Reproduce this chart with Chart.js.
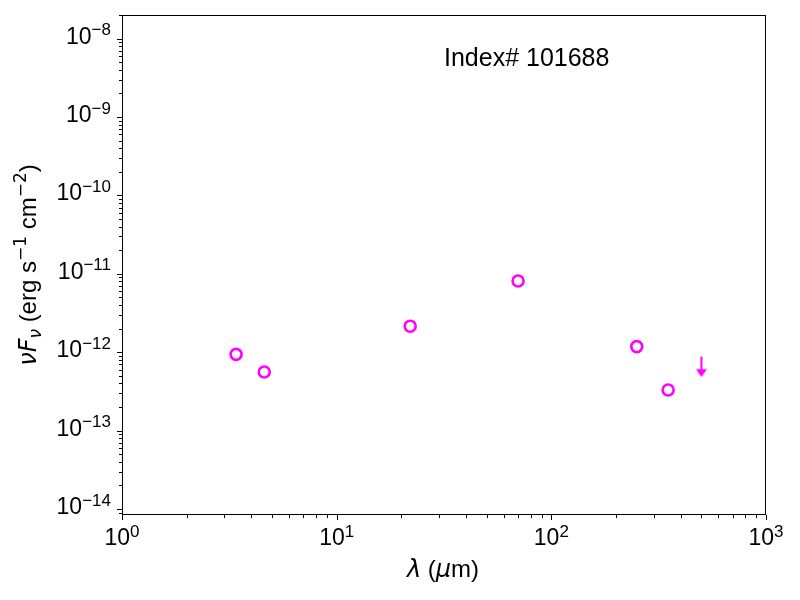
<!DOCTYPE html>
<html>
<head>
<meta charset="utf-8">
<script src="https://cdn.jsdelivr.net/npm/chart.js@4.4.1/dist/chart.umd.min.js"></script>
<style>
    body { margin: 0; background: #fff; }
    #wrap { width: 800px; height: 600px; }
</style>
</head>
<body>
<div id="wrap"><canvas id="sed" width="800" height="600"></canvas></div>
<script>
// photometry (wavelength in micron, nuFnu in erg/s/cm2)
const wavelengths = [3.4, 4.6, 22, 70, 250, 350];
const fluxes = [9.4e-13, 5.6e-13, 2.15e-12, 8.1e-12, 1.18e-12, 3.3e-13];
// upper limits
const limitWavelengths = [500];
const limitFluxes = [8.8e-13];

const xTicks = [1, 10, 100, 1000];
const yTicks = [1e-14, 1e-13, 1e-12, 1e-11, 1e-10, 1e-9, 1e-8];
const xRange = [1, 1000];
const yRange = [8.4e-15, 2.0e-8];
const label = 'Index# 101688';
const magenta = '#ff00ff';

const tickFont = '23px "Liberation Sans", Arial, sans-serif';
const supFont = '17px "Liberation Sans", Arial, sans-serif';
const titleFont = '24px "Liberation Sans", Arial, sans-serif';
// math parts of the axis titles
const mathIt = 'italic 24px "DejaVu Sans", sans-serif';
const mathItSub = 'italic 17px "DejaVu Sans", sans-serif';
const mathSup = '17px "DejaVu Sans", sans-serif';

// little down arrow for the upper limit, top of the arrow sits on the value
function arrowImage() {
    let c = document.createElement('canvas');
    c.width = 14;
    c.height = 44;
    let g = c.getContext('2d');
    g.strokeStyle = magenta;
    g.fillStyle = magenta;
    g.lineWidth = 2;
    g.beginPath();
    g.moveTo(7, 22);
    g.lineTo(7, 35);
    g.stroke();
    g.beginPath();
    g.moveTo(1.5, 34.5);
    g.lineTo(12.5, 34.5);
    g.lineTo(7, 42.5);
    g.closePath();
    g.fill();
    return c;
}

function expText(v) {
    let e = Math.round(Math.log10(v));
    return e < 0 ? '\u2212' + (-e) : String(e);
}

// "10" with a raised exponent
function powerLabel(ctx, v, x, y, align) {
    let sup = expText(v);
    ctx.font = tickFont;
    let wb = ctx.measureText('10').width;
    ctx.font = supFont;
    let ws = ctx.measureText(sup).width;
    let start = align === 'right' ? x - wb - ws : x - (wb + ws) / 2;
    ctx.textAlign = 'left';
    ctx.textBaseline = 'alphabetic';
    ctx.font = tickFont;
    ctx.fillText('10', start, y);
    ctx.font = supFont;
    ctx.fillText(sup, start + wb, y - 8.5);
}

// draws a run of text pieces with their own font and vertical shift
function drawRuns(ctx, runs, cx, y) {
    let total = 0;
    runs.forEach(r => { ctx.font = r.font; total += ctx.measureText(r.t).width; });
    let x = cx - total / 2;
    ctx.textAlign = 'left';
    ctx.textBaseline = 'alphabetic';
    runs.forEach(r => {
        ctx.font = r.font;
        ctx.fillText(r.t, x, y + (r.dy || 0));
        x += ctx.measureText(r.t).width;
    });
}

function decadeTicks(range) {
    let out = [];
    let lo = Math.floor(Math.log10(range[0]));
    let hi = Math.ceil(Math.log10(range[1]));
    for (let n = lo; n <= hi; n++) {
        for (let k = 1; k <= 9; k++) {
            let v = k * Math.pow(10, n);
            if (v >= range[0] * 0.999 && v <= range[1] * 1.001) out.push({ v: v, major: k === 1 });
        }
    }
    return out;
}

const axesPlugin = {
    id: 'axesPlugin',
    afterDraw(chart) {
        let ctx = chart.ctx;
        let a = chart.chartArea;
        let xs = chart.scales.x;
        let ys = chart.scales.y;
        ctx.save();
        ctx.strokeStyle = '#000';
        ctx.fillStyle = '#000';
        ctx.lineWidth = 1;
        ctx.strokeRect(a.left + 0.5, a.top + 0.5, a.right - a.left - 1, a.bottom - a.top - 1);

        decadeTicks(xRange).forEach(t => {
            let px = Math.round(xs.getPixelForValue(t.v)) + 0.5;
            ctx.beginPath();
            ctx.moveTo(px, a.bottom);
            ctx.lineTo(px, a.bottom + (t.major ? 5 : 3));
            ctx.stroke();
        });
        decadeTicks(yRange).forEach(t => {
            let py = Math.round(ys.getPixelForValue(t.v)) + 0.5;
            ctx.beginPath();
            ctx.moveTo(a.left, py);
            ctx.lineTo(a.left - (t.major ? 5 : 3), py);
            ctx.stroke();
        });

        xTicks.forEach(v => powerLabel(ctx, v, xs.getPixelForValue(v), a.bottom + 30, 'center'));
        yTicks.forEach(v => powerLabel(ctx, v, a.left - 11, ys.getPixelForValue(v) + 5, 'right'));

        // axis titles
        drawRuns(ctx, [
            { t: '\u03bb', font: mathIt },
            { t: ' (', font: titleFont },
            { t: '\u03bc', font: mathIt },
            { t: 'm)', font: titleFont }
        ], 443, 577);

        ctx.save();
        ctx.translate(36, 265);
        ctx.rotate(-Math.PI / 2);
        drawRuns(ctx, [
            { t: '\u03bd', font: mathIt },
            { t: 'F', font: mathIt },
            { t: '\u03bd', font: mathItSub, dy: 5 },
            { t: ' (erg s', font: titleFont },
            { t: '\u22121', font: mathSup, dy: -10 },
            { t: ' cm', font: titleFont },
            { t: '\u22122', font: mathSup, dy: -10 },
            { t: ')', font: titleFont }
        ], 0, 0);
        ctx.restore();

        ctx.font = '25px "Liberation Sans", Arial, sans-serif';
        ctx.textAlign = 'left';
        ctx.textBaseline = 'alphabetic';
        ctx.fillText(label, 444, 66);
        ctx.restore();
    }
};

let ctx = document.getElementById('sed');
let sed = new Chart(ctx, {
    type: 'scatter',
    data: {
        datasets: [{
            label: 'detections',
            data: wavelengths.map((w, i) => ({ x: w, y: fluxes[i] })),
            pointStyle: 'circle',
            pointRadius: 5.5,
            borderWidth: 2.6,
            borderColor: magenta,
            backgroundColor: 'rgba(0,0,0,0)'
        }, {
            label: 'upper limits',
            data: limitWavelengths.map((w, i) => ({ x: w, y: limitFluxes[i] })),
            pointStyle: arrowImage(),
            pointRadius: 10
        }]
    },
    options: {
        responsive: false,
        animation: false,
        devicePixelRatio: 1,
        layout: {
            padding: { left: 122, top: 15, right: 34, bottom: 85 }
        },
        scales: {
            x: { type: 'logarithmic', min: xRange[0], max: xRange[1], display: false },
            y: { type: 'logarithmic', min: yRange[0], max: yRange[1], display: false }
        },
        plugins: {
            legend: { display: false },
            tooltip: { enabled: false }
        }
    },
    plugins: [axesPlugin]
});
</script>
</body>
</html>
